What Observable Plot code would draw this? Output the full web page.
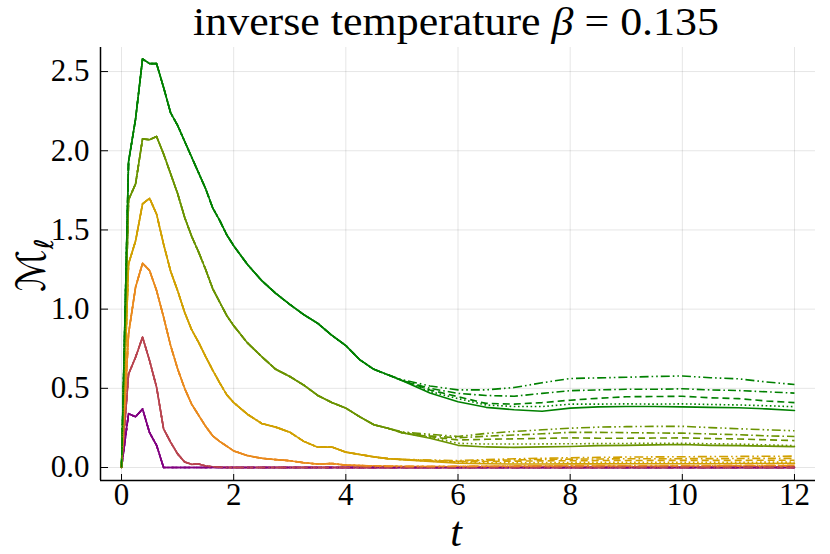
<!DOCTYPE html>
<html><head><meta charset="utf-8">
<script src="https://cdn.jsdelivr.net/npm/d3@7"></script>
<script src="https://cdn.jsdelivr.net/npm/@observablehq/plot@0.6"></script>
<style>html,body{margin:0;padding:0;background:#fff}svg{display:block}</style>
</head><body><div id="chart"></div>
<script>
// ---------- data ----------
const xTicks = [0, 2, 4, 6, 8, 10, 12];
const yTicks = [0, 0.5, 1.0, 1.5, 2.0, 2.5];
const groupNames = ["purple", "rose", "orange", "gold", "olive", "green"];
const groupColors = ["#800080", "#b8444f", "#e98a1e", "#d1a000", "#6a9300", "#008000"];
const styleNames = ["solid", "dotted", "dashed", "dashdot", "dashdotdot"];
const styleDash = [null, "1.6,2.6", "7,4", "8,3,1.6,3", "9,3,1.6,3,1.6,3"];

// shared early part (identical for all line styles)
const tHead = [0, 0.125, 0.25, 0.375, 0.5, 0.625, 0.75, 0.875, 1, 1.125, 1.25, 1.375, 1.5, 1.625, 1.75, 1.875, 2, 2.25, 2.5, 2.75, 3, 3.25, 3.5, 3.75, 4, 4.25, 4.5, 4.75];
const headPurple = [0, 0.34, 0.32, 0.37, 0.22, 0.14, 0, 0, 0, 0, 0, 0, 0, 0, 0, 0, 0, 0, 0, 0, 0, 0, 0, 0, 0, 0, 0, 0];
const headRose = [0, 0.59, 0.696, 0.823, 0.675, 0.507, 0.244, 0.16, 0.086, 0.035, 0.02, 0.022, 0.01, 0.005, 0.002, 0, 0, 0, 0, 0, 0, 0, 0, 0, 0, 0, 0, 0];
const headOrange = [0, 0.844, 1.138, 1.29, 1.244, 1.117, 0.95, 0.77, 0.623, 0.5, 0.4, 0.33, 0.26, 0.2, 0.165, 0.135, 0.105, 0.075, 0.058, 0.05, 0.043, 0.03, 0.022, 0.025, 0.015, 0.012, 0.01, 0.008];
const headGold = [0, 1.286, 1.43, 1.665, 1.7, 1.6, 1.41, 1.24, 1.117, 0.98, 0.87, 0.79, 0.7, 0.615, 0.535, 0.46, 0.41, 0.335, 0.278, 0.255, 0.223, 0.165, 0.128, 0.13, 0.097, 0.082, 0.067, 0.056];
const headOlive = [0, 1.69, 1.79, 2.075, 2.07, 2.09, 1.98, 1.855, 1.73, 1.58, 1.46, 1.36, 1.25, 1.13, 1.045, 0.96, 0.895, 0.785, 0.7, 0.62, 0.575, 0.52, 0.455, 0.41, 0.375, 0.32, 0.27, 0.248];
const headGreen = [0, 1.93, 2.2, 2.58, 2.55, 2.55, 2.4, 2.24, 2.16, 2.06, 1.96, 1.86, 1.76, 1.64, 1.56, 1.47, 1.4, 1.28, 1.18, 1.1, 1.03, 0.965, 0.91, 0.835, 0.77, 0.68, 0.62, 0.585];

// diverging late part, one row per line style (solid, dotted, dashed, dash-dot, dash-dot-dot)
const tTail = [5, 5.5, 6, 6.5, 7, 7.5, 8, 8.5, 9, 9.5, 10, 10.5, 11, 11.5, 12];
const tailPurple = [
  [0, 0, 0, 0, 0, 0, 0, 0, 0, 0, 0, 0, 0, 0, 0],
  [0, 0, 0, 0, 0, 0, 0, 0, 0, 0, 0, 0, 0, 0, 0],
  [0, 0, 0, 0, 0, 0, 0, 0, 0, 0, 0, 0, 0, 0, 0],
  [0, 0, 0, 0, 0, 0, 0, 0, 0, 0, 0, 0, 0, 0, 0],
  [0, 0, 0, 0, 0, 0, 0, 0, 0, 0, 0, 0, 0, 0, 0]
];
const tailRose = [
  [0, 0, 0, 0, 0, 0, 0, 0, 0, 0, 0, 0, 0, 0, 0],
  [0, 0, 0, 0, 0, 0, 0, 0, 0, 0, 0, 0, 0, 0, 0],
  [0, 0, 0, 0, 0, 0, 0, 0, 0, 0, 0, 0, 0, 0, 0],
  [0, 0, 0, 0, 0, 0, 0, 0, 0, 0.001, 0.001, 0.001, 0.001, 0.001, 0.001],
  [0, 0, 0, 0, 0, 0, 0.001, 0.001, 0.001, 0.001, 0.001, 0.001, 0.001, 0.001, 0.001]
];
const tailOrange = [
  [0.006, 0.005, 0.004, 0.004, 0.004, 0.004, 0.004, 0.004, 0.004, 0.004, 0.004, 0.004, 0.004, 0.004, 0.004],
  [0.006, 0.005, 0.005, 0.005, 0.005, 0.006, 0.006, 0.006, 0.006, 0.006, 0.006, 0.006, 0.006, 0.006, 0.006],
  [0.006, 0.006, 0.006, 0.006, 0.007, 0.007, 0.008, 0.008, 0.008, 0.008, 0.008, 0.008, 0.008, 0.008, 0.008],
  [0.006, 0.006, 0.007, 0.008, 0.009, 0.009, 0.01, 0.01, 0.01, 0.01, 0.01, 0.01, 0.011, 0.011, 0.011],
  [0.007, 0.007, 0.008, 0.009, 0.01, 0.011, 0.012, 0.012, 0.013, 0.013, 0.013, 0.013, 0.014, 0.014, 0.014]
];
const tailGold = [
  [0.05, 0.038, 0.027, 0.024, 0.022, 0.022, 0.023, 0.023, 0.024, 0.024, 0.024, 0.024, 0.025, 0.025, 0.026],
  [0.05, 0.04, 0.032, 0.03, 0.03, 0.031, 0.032, 0.033, 0.033, 0.033, 0.033, 0.033, 0.033, 0.034, 0.034],
  [0.05, 0.042, 0.036, 0.038, 0.04, 0.042, 0.043, 0.044, 0.044, 0.045, 0.045, 0.045, 0.045, 0.046, 0.046],
  [0.051, 0.045, 0.04, 0.045, 0.048, 0.051, 0.053, 0.054, 0.055, 0.055, 0.056, 0.056, 0.057, 0.058, 0.058],
  [0.052, 0.047, 0.044, 0.05, 0.055, 0.058, 0.062, 0.064, 0.066, 0.067, 0.068, 0.069, 0.07, 0.071, 0.072]
];
const tailOlive = [
  [0.22, 0.185, 0.14, 0.13, 0.127, 0.13, 0.133, 0.138, 0.14, 0.143, 0.145, 0.14, 0.138, 0.135, 0.132],
  [0.22, 0.19, 0.153, 0.148, 0.148, 0.149, 0.15, 0.151, 0.152, 0.153, 0.153, 0.15, 0.148, 0.143, 0.138],
  [0.22, 0.195, 0.174, 0.178, 0.181, 0.184, 0.187, 0.185, 0.185, 0.186, 0.187, 0.183, 0.18, 0.175, 0.17],
  [0.222, 0.2, 0.187, 0.198, 0.205, 0.213, 0.222, 0.222, 0.22, 0.218, 0.217, 0.212, 0.207, 0.2, 0.196],
  [0.225, 0.21, 0.196, 0.215, 0.228, 0.238, 0.248, 0.255, 0.258, 0.26, 0.26, 0.252, 0.245, 0.238, 0.232]
];
const tailGreen = [
  [0.55, 0.47, 0.415, 0.38, 0.365, 0.355, 0.375, 0.383, 0.385, 0.385, 0.383, 0.38, 0.377, 0.37, 0.36],
  [0.55, 0.48, 0.435, 0.395, 0.385, 0.385, 0.4, 0.4, 0.402, 0.4, 0.402, 0.398, 0.395, 0.39, 0.384],
  [0.55, 0.49, 0.447, 0.405, 0.4, 0.41, 0.425, 0.437, 0.447, 0.448, 0.45, 0.44, 0.435, 0.42, 0.41],
  [0.55, 0.5, 0.468, 0.455, 0.45, 0.468, 0.485, 0.49, 0.494, 0.494, 0.497, 0.49, 0.486, 0.478, 0.47],
  [0.555, 0.515, 0.49, 0.49, 0.505, 0.535, 0.562, 0.566, 0.57, 0.575, 0.578, 0.567, 0.56, 0.54, 0.524]
];

const heads = [headPurple, headRose, headOrange, headGold, headOlive, headGreen];
const tails = [tailPurple, tailRose, tailOrange, tailGold, tailOlive, tailGreen];

// ---------- build series ----------
const xDomain = [-0.375, 12.375];
const yDomain = [-0.082, 2.652];
const lineMarks = [];
styleNames.forEach((s, si) => {
  groupNames.forEach((g, gi) => {
    const pts = tHead.map((t, i) => ({t, v: heads[gi][i]}))
      .concat(tTail.map((t, i) => ({t, v: tails[gi][si][i]})));
    lineMarks.push(Plot.line(pts, {
      x: "t", y: "v",
      stroke: groupColors[gi], strokeWidth: 1.6,
      strokeDasharray: styleDash[si],
      strokeLinejoin: "round", strokeLinecap: si === 0 ? "round" : "butt"
    }));
  });
});

const serif = "'Liberation Serif', 'DejaVu Serif', serif";
const chart = Plot.plot({
  width: 830, height: 554,
  marginLeft: 100, marginRight: 15, marginTop: 47, marginBottom: 74,
  style: {fontFamily: serif, fontSize: "30px", background: "#fff", color: "#000"},
  x: {domain: xDomain},
  y: {domain: yDomain},
  marks: [
    Plot.gridX(xTicks, {stroke: "#000", strokeOpacity: 0.1, strokeWidth: 1}),
    Plot.gridY(yTicks, {stroke: "#000", strokeOpacity: 0.1, strokeWidth: 1}),
    ...lineMarks,
    Plot.ruleX([xDomain[0]], {stroke: "#000", strokeWidth: 1.5}),
    Plot.ruleY([yDomain[0]], {stroke: "#000", strokeWidth: 1.5}),
    Plot.axisX(xTicks, {tickSize: -6, tickPadding: 8, label: null, fontSize: 31, tickFormat: d3.format("d")}),
    Plot.axisY(yTicks, {tickSize: -8, tickPadding: 19, label: null, fontSize: 31, tickFormat: d3.format(".1f")})
  ]
});
document.getElementById("chart").appendChild(chart);

// ---------- text: title and axis labels ----------
const svg = d3.select(chart);
const title = svg.append("text")
  .attr("x", 456).attr("y", 35)
  .attr("text-anchor", "middle")
  .attr("textLength", 526).attr("lengthAdjust", "spacingAndGlyphs")
  .attr("font-family", serif).attr("font-size", 39).attr("fill", "#000");
title.append("tspan").text("inverse temperature ");
title.append("tspan").attr("font-style", "italic").text("β");
title.append("tspan").text(" = 0.135");

svg.append("text")
  .attr("x", 456).attr("y", 546)
  .attr("text-anchor", "middle")
  .attr("font-family", serif).attr("font-style", "italic")
  .attr("font-size", 42).attr("fill", "#000")
  .text("t");

const ylab = svg.append("text")
  .attr("transform", "translate(45,292) rotate(-90)")
  .attr("text-anchor", "start")
  .attr("font-family", "'DejaVu Serif', 'DejaVu Sans', serif")
  .attr("font-size", 40).attr("fill", "#000");
ylab.append("tspan").attr("font-style", "italic").text("ℳ");
ylab.append("tspan").attr("dy", 8).attr("font-size", 26).attr("font-style", "italic").text("ℓ");
</script></body></html>
